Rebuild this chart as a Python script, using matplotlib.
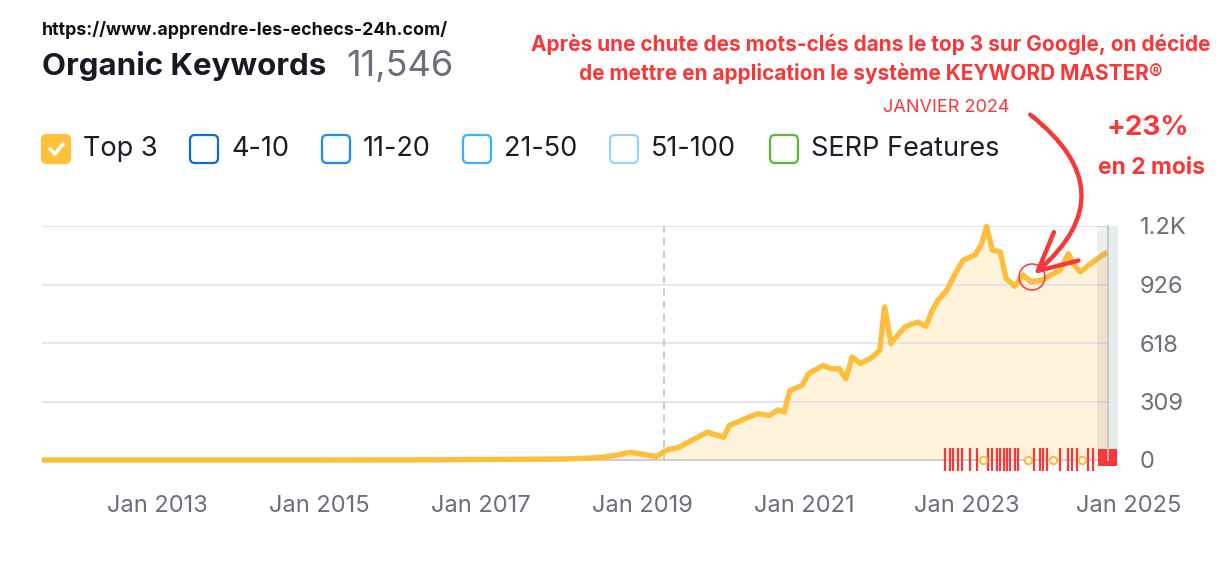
import matplotlib.pyplot as plt
from matplotlib.patches import FancyBboxPatch, Circle, FancyArrowPatch, Rectangle

plt.rcParams['font.family'] = ['Inter', 'DejaVu Sans']

# Top 3 keywords (decimal year, count)
years = [2011.58, 2013.0, 2015.0, 2016.5, 2017.2, 2017.7, 2018.0, 2018.25, 2018.5,
         2018.68, 2018.84, 2019.0, 2019.17, 2019.3, 2019.45, 2019.6, 2019.8,
         2020.0, 2020.07, 2020.26, 2020.42, 2020.57, 2020.67, 2020.75, 2020.82,
         2020.97, 2021.05, 2021.23, 2021.33, 2021.43, 2021.51, 2021.59, 2021.69,
         2021.84, 2021.93, 2021.99, 2022.07, 2022.15, 2022.25, 2022.4, 2022.5,
         2022.58, 2022.65, 2022.76, 2022.83, 2022.96, 2023.11, 2023.19, 2023.25,
         2023.32, 2023.42, 2023.49, 2023.6, 2023.7, 2023.8, 2023.93, 2024.16,
         2024.26, 2024.33, 2024.41, 2024.54, 2024.74]
top3 = [0, 0, 0, 1, 3, 4, 5, 8, 14,
        25, 41, 30, 18, 53, 67, 102, 147,
        120, 182, 217, 244, 235, 265, 253, 367,
        394, 456, 500, 482, 482, 429, 544, 509,
        544, 579, 809, 615, 659, 706, 729, 706,
        791, 844, 897, 959, 1056, 1083, 1144, 1233,
        1109, 1100, 959, 918, 977, 941, 950, 1003,
        1091, 1030, 994, 1038, 1100]

y_ticks = [0, 309, 618, 926, 1236]
y_labels = ['0', '309', '618', '926', '1.2K']
x_ticks = [2013, 2015, 2017, 2019, 2021, 2023]
x_labels = ['Jan 2013', 'Jan 2015', 'Jan 2017', 'Jan 2019', 'Jan 2021', 'Jan 2023']
legend_labels = ['Top 3', '4-10', '11-20', '21-50', '51-100', 'SERP Features']
legend_colors = ['#FDC13A', '#0B6BC8', '#1A8CF0', '#3DB0FA', '#9BD2FC', '#5DB83A']
update_year = 2019.26
note_years = [2022.74, 2022.8, 2022.84, 2022.9, 2022.95, 2023.05, 2023.13, 2023.27,
              2023.32, 2023.38, 2023.42, 2023.46, 2023.5, 2023.54, 2023.6, 2023.64,
              2023.83, 2023.91, 2023.95, 2024.0, 2024.16, 2024.25, 2024.31, 2024.37,
              2024.5, 2024.56]
note_dot_years = [2023.2, 2023.76, 2024.07, 2024.43]

RED = '#F83838'
YEL = '#FDBF3B'
GRAY_TXT = '#6C6E79'

W, H = 1226, 562
fig = plt.figure(figsize=(W / 100, H / 100), dpi=100)
ax = fig.add_axes([42 / W, 1 - 460 / H, (1108 - 42) / W, (460 - 226) / H])

ax.fill_between(years, top3, color='#FEF2DA', lw=0, zorder=1)
ax.plot(years, top3, color=YEL, lw=3.9, clip_on=False, solid_joinstyle='round',
        solid_capstyle='butt', zorder=3)
ax.axvline(update_year, color='#C4C6CB', lw=1.3, ls=(0, (4, 3)), zorder=2)
ax.axvspan(2024.615, 2024.75, color='#7F7F7F', alpha=0.13, lw=0, zorder=4)

ax.set_xlim(2011.58, 2024.75)
ax.set_ylim(0, 1236)
ax.set_yticks(y_ticks, y_labels)
ax.set_xticks(x_ticks, x_labels)
ax.yaxis.tick_right()
ax.tick_params(axis='y', length=0, pad=23, labelsize=17, labelcolor=GRAY_TXT)
ax.tick_params(axis='x', length=0, pad=25, labelsize=17, labelcolor=GRAY_TXT)
ax.grid(axis='y', color='#E2E3E8', lw=1.3, zorder=0)
for s in ['top', 'right', 'left']:
    ax.spines[s].set_visible(False)
ax.spines['bottom'].set_color('#C9CBD0')
ax.spines['bottom'].set_linewidth(1.3)
ax.text(2025, -0.195, 'Jan 2025', transform=ax.get_xaxis_transform(), ha='center',
        va='center', fontsize=17, color=GRAY_TXT, clip_on=False)

# note markers along the bottom
ax.vlines(note_years, -0.045, 0.05, transform=ax.get_xaxis_transform(), colors=RED,
          lw=1.6, clip_on=False, zorder=5)
ax.scatter(note_dot_years, [0] * len(note_dot_years), s=28, facecolors='white',
           edgecolors=YEL, lw=1.5, clip_on=False, zorder=6)

# overlay in pixel coords for header / annotations
ov = fig.add_axes([0, 0, 1, 1], zorder=5)
ov.set_xlim(0, W)
ov.set_ylim(H, 0)
ov.axis('off')
ov.patch.set_alpha(0)

ov.add_patch(Rectangle((1108, 226), 10, 234, color='#E8ECED', lw=0))
ov.plot([1108, 1108], [226, 460], color='#BEC4C8', lw=1.2)
ov.add_patch(Rectangle((1098, 449), 19, 17, color=RED, lw=0))

ov.text(42, 30, 'https://www.apprendre-les-echecs-24h.com/', fontsize=12.8,
        fontweight='bold', va='center', color='#111111')
ov.text(42, 66, 'Organic Keywords', fontsize=22.5, fontweight='bold', va='center',
        color='#171A22')
ov.text(346, 66, '11,546', fontsize=26, va='center', color=GRAY_TXT)

box_x = [42, 190, 322, 463, 610, 770]
for x, lab, col in zip(box_x, legend_labels, legend_colors):
    filled = lab == 'Top 3'
    ov.add_patch(FancyBboxPatch((x, 135), 28, 28, boxstyle='round,pad=0,rounding_size=5',
                                fc=col if filled else 'white', ec=col, lw=1.6))
    if filled:
        ov.plot([x + 8, x + 13, x + 21], [149, 154, 144], color='white', lw=2.6,
                solid_capstyle='round', solid_joinstyle='round')
    ov.text(x + 41, 149, lab, fontsize=19.5, va='center', color='#1B1D26')

ov.text(871, 59, "Après une chute des mots-clés dans le top 3 sur Google, on décide\n"
        "de mettre en application le système KEYWORD MASTER®", ha='center', va='center',
        fontsize=15, fontweight='bold', color=RED, linespacing=1.5)
ov.text(946, 107, 'JANVIER 2024', ha='center', va='center', fontsize=13, color=RED)
ov.text(1148, 128, '+23%', ha='center', va='center', fontsize=20, fontweight='bold',
        color=RED)
ov.text(1152, 168, 'en 2 mois', ha='center', va='center', fontsize=16.5,
        fontweight='bold', color=RED)

ov.add_patch(Circle((1032, 277), 13, fill=False, ec=RED, lw=1.1))
ov.add_patch(FancyArrowPatch((1028, 113), (1032, 276), connectionstyle='arc3,rad=-0.62',
                             arrowstyle='->,head_length=0.9,head_width=0.45', lw=3.2,
                             color=RED, mutation_scale=30))

fig.savefig('out.png', dpi=100)
